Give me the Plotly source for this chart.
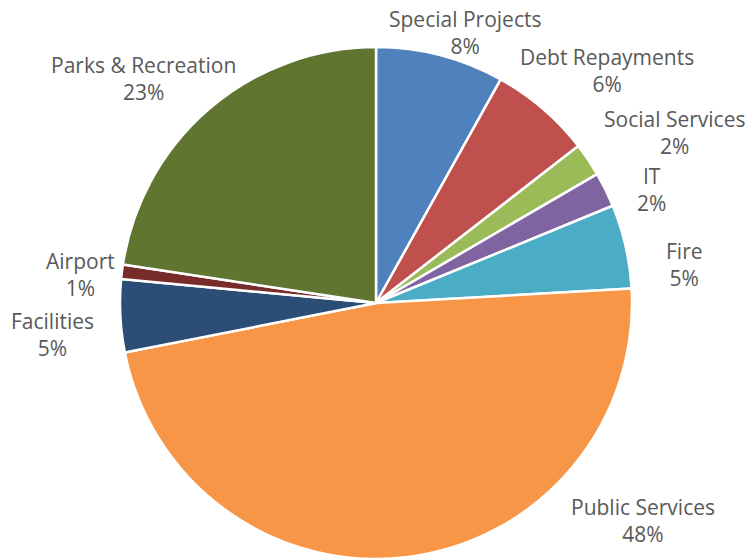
import plotly.graph_objects as go

categories = ["Special Projects", "Debt Repayments", "Social Services", "IT", "Fire",
              "Public Services", "Facilities", "Airport", "Parks & Recreation"]
values = [8.1, 6.4, 2.1, 2.2, 5.3, 47.8, 4.6, 0.9, 22.6]
colors = ["#4F81BD", "#C0504D", "#9BBB59", "#8064A2", "#4BACC6",
          "#F79646", "#2C4D75", "#772C2A", "#5F7530"]

W, H = 749, 560
# label block centres (pixels, layout only)
label_pos = [(465, 32), (607, 70), (674, 132), (651, 189), (684, 264),
             (643, 520), (52, 334), (80, 274), (143, 79)]

# pie box in pixels: centre (376, 303), radius 256
cx, cy, r = 376, 303, 256

fig = go.Figure(go.Pie(
    labels=categories,
    values=values,
    sort=False,
    direction="clockwise",
    rotation=0,
    marker=dict(colors=colors, line=dict(color="white", width=2.5)),
    textinfo="none",
    showlegend=False,
    hoverinfo="label+percent",
    domain=dict(x=[(cx - r) / W, (cx + r) / W], y=[(H - cy - r) / H, (H - cy + r) / H]),
))

total = sum(values)
annotations = []
for cat, v, (px, py) in zip(categories, values, label_pos):
    annotations.append(dict(
        text=f"{cat}<br>{round(100 * v / total)}%",
        x=px / W, y=1 - py / H, xref="paper", yref="paper",
        xanchor="center", yanchor="middle", showarrow=False, align="center",
        font=dict(family="Open Sans, Arial, sans-serif", size=21, color="#595959"),
    ))

fig.update_layout(
    width=W, height=H,
    margin=dict(l=0, r=0, t=0, b=0),
    paper_bgcolor="white",
    plot_bgcolor="white",
    annotations=annotations,
)

fig.write_html("out.html")
